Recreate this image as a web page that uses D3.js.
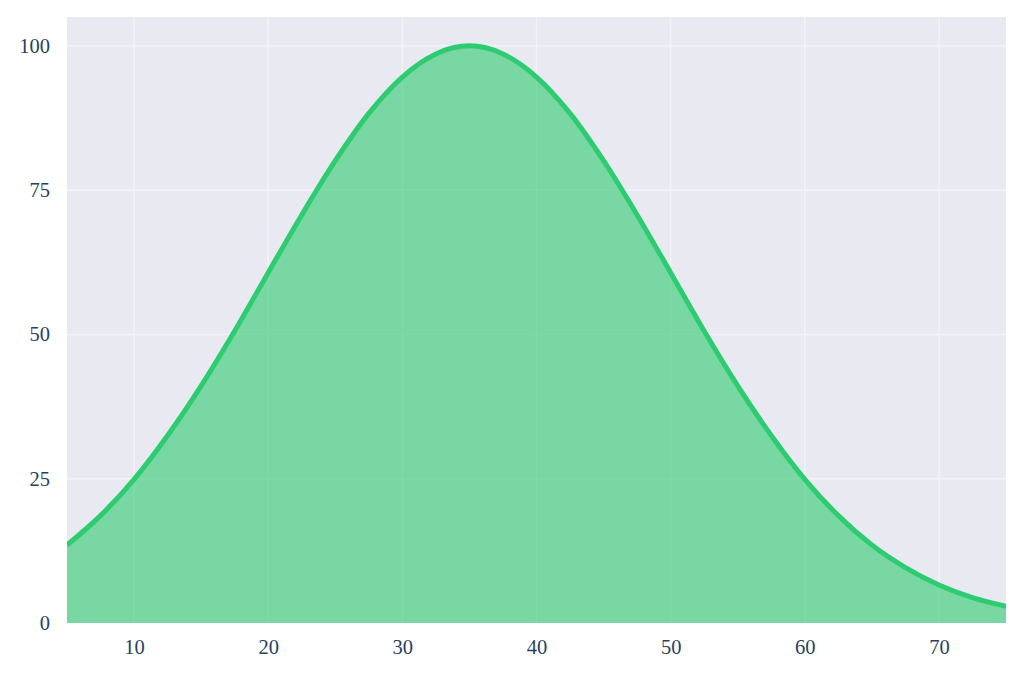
<!DOCTYPE html>
<html>
<head>
<meta charset="utf-8">
<script src="https://cdn.jsdelivr.net/npm/d3@7"></script>
<style>
  body { margin: 0; background: #fff; }
  svg { display: block; font-family: "Liberation Serif", "Times New Roman", serif; }
</style>
</head>
<body>
<svg id="chart" width="1024" height="677"></svg>
<script>
const xValues = [5, 7.5, 10, 12.5, 15, 17.5, 20, 22.5, 25, 27.5, 30, 32.5, 35, 37.5, 40, 42.5, 45, 47.5, 50, 52.5, 55, 57.5, 60, 62.5, 65, 67.5, 70, 72.5, 75];
const yValues = [13.5, 18.6, 24.9, 32.5, 41.1, 50.6, 60.7, 70.7, 80.1, 88.3, 94.6, 98.6, 100, 98.6, 94.6, 88.3, 80.1, 70.7, 60.7, 50.6, 41.1, 32.5, 24.9, 18.6, 13.5, 9.6, 6.6, 4.4, 2.9];
const xTicks = [10, 20, 30, 40, 50, 60, 70];
const yTicks = [0, 25, 50, 75, 100];

const svg = d3.select("#chart");
const margin = { top: 17, right: 18, bottom: 54, left: 67 };
const width = 1024 - margin.left - margin.right;
const height = 677 - margin.top - margin.bottom;

const data = xValues.map((x, i) => ({ x: x, y: yValues[i] }));

const x = d3.scaleLinear().domain([5, 75]).range([0, width]);
const y = d3.scaleLinear().domain([0, 105]).range([height, 0]);

const g = svg.append("g").attr("transform", `translate(${margin.left},${margin.top})`);

g.append("rect")
  .attr("width", width)
  .attr("height", height)
  .attr("fill", "#e9e9f1");

g.append("clipPath").attr("id", "clip")
  .append("rect").attr("width", width).attr("height", height);

// grid
g.selectAll(".vgrid")
  .data(xTicks)
  .enter()
  .append("line")
  .attr("x1", d => x(d)).attr("x2", d => x(d))
  .attr("y1", 0).attr("y2", height)
  .attr("stroke", "#f3f3f7").attr("stroke-width", 1.5);

g.selectAll(".hgrid")
  .data(yTicks.filter(d => d > 0))
  .enter()
  .append("line")
  .attr("x1", 0).attr("x2", width)
  .attr("y1", d => y(d)).attr("y2", d => y(d))
  .attr("stroke", "#f3f3f7").attr("stroke-width", 1.5);

const area = d3.area()
  .x(d => x(d.x))
  .y0(y(0))
  .y1(d => y(d.y))
  .curve(d3.curveMonotoneX);

const line = d3.line()
  .x(d => x(d.x))
  .y(d => y(d.y))
  .curve(d3.curveMonotoneX);

const plot = g.append("g").attr("clip-path", "url(#clip)");

plot.append("path")
  .datum(data)
  .attr("d", area)
  .attr("fill", "#2ecc71")
  .attr("fill-opacity", 0.6);

plot.append("path")
  .datum(data)
  .attr("d", line)
  .attr("fill", "none")
  .attr("stroke", "#2ecc71")
  .attr("stroke-width", 5);

// axes
const xAxis = g.append("g")
  .attr("transform", `translate(0,${height})`)
  .call(d3.axisBottom(x).tickValues(xTicks).tickSize(0).tickPadding(16));
xAxis.select(".domain").remove();

const yAxis = g.append("g")
  .call(d3.axisLeft(y).tickValues(yTicks).tickSize(0).tickPadding(17));
yAxis.select(".domain").remove();

svg.selectAll(".tick text")
  .attr("fill", "#2a3f5f")
  .style("font-size", "20.5px")
  .style("font-family", "'Liberation Serif', 'Times New Roman', serif");
</script>
</body>
</html>
